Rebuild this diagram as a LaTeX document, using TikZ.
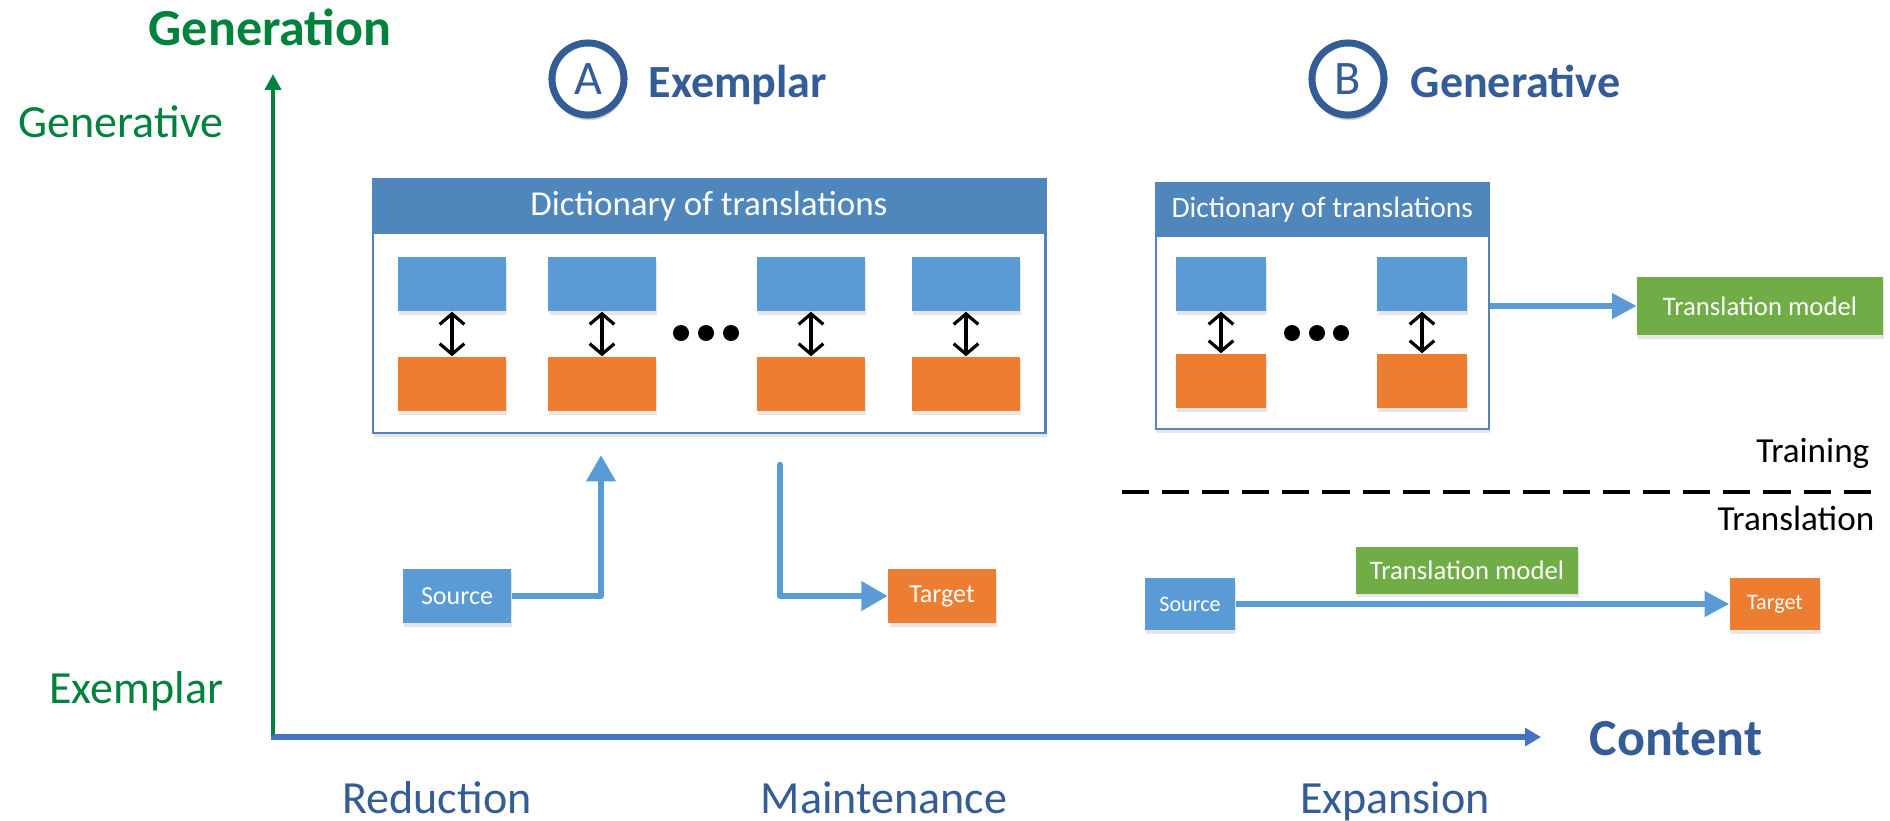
\documentclass[tikz,border=0pt]{standalone}
\usepackage{fontspec}
\setmainfont{Carlito}
\usetikzlibrary{arrows.meta,shadows}

\definecolor{axgreen}{RGB}{0,130,60}
\definecolor{navy}{RGB}{52,92,150}
\definecolor{hdrblue}{RGB}{79,134,188}
\definecolor{rimblue}{RGB}{84,130,185}
\definecolor{srcblue}{RGB}{91,155,213}
\definecolor{tgtorange}{RGB}{237,125,49}
\definecolor{mdlgreen}{RGB}{112,173,71}
\definecolor{axblue}{RGB}{68,114,196}

\newcommand{\fs}[1]{\fontsize{#1}{1.2\dimexpr#1pt\relax}\selectfont}

\begin{document}
\begin{tikzpicture}[x=0.01cm,y=-0.01cm,
  softshadow/.style={drop shadow={shadow xshift=0.3pt,shadow yshift=-1pt,opacity=0.1,fill=black}},
  dictframe/.style={draw=rimblue,line width=0.6pt,fill=white,rectangle,inner sep=0,softshadow},
  dicthead/.style={fill=hdrblue,rectangle,inner sep=0,text=white},
  entry/.style={rectangle,inner sep=0,minimum height=0.54cm,softshadow},
  srcbox/.style={entry,fill=srcblue},
  tgtbox/.style={entry,fill=tgtorange},
  mdlbox/.style={rectangle,inner sep=0,fill=mdlgreen,text=white,softshadow},
  pairarrow/.style={black,line width=0.9pt,{Straight Barb[length=3pt,width=7pt]}-{Straight Barb[length=3pt,width=7pt]}},
  dot/.style={circle,fill=black,minimum size=0.16cm,inner sep=0},
  flowA/.style={srcblue,line width=1.9pt,line join=round,-{Triangle[length=7.5pt,width=8pt]}},
  flowB/.style={srcblue,line width=1.5pt,-{Triangle[length=7pt,width=7pt]}},
  badge/.style={circle,draw=navy,fill=white,line width=2pt,minimum size=0.72cm,inner sep=0,text=navy,
    font=\fs{13.7},drop shadow={shadow xshift=0.3pt,shadow yshift=-1.5pt,opacity=0.18,fill=black}},
  title/.style={text=navy,font=\bfseries\fs{13.1},inner sep=0},
  axislabel/.style={text=navy,font=\fs{13.1},inner sep=0},
  levellabel/.style={text=axgreen,font=\fs{13.1},inner sep=0},
  phase/.style={text=black,font=\fs{10},inner sep=0}
]
\useasboundingbox (0,0) rectangle (1890,820);

% ---------- axes ----------
\coordinate (origin) at (273,737);
\coordinate (ytip) at (273,74);
\coordinate (xtip) at (1541,737);
\draw[axblue,line width=1.5pt,-{Triangle[length=4.5pt,width=5pt]},
      drop shadow={shadow xshift=0.3pt,shadow yshift=-1pt,opacity=0.15}] (origin) ++(-2,0) -- (xtip);
\draw[axgreen,line width=1.2pt,-{Triangle[length=4.5pt,width=4.5pt]}] (273,735) -- (ytip);

\node[anchor=base,text=axgreen,font=\bfseries\fs{14.8},inner sep=0] (ylab) at (270,45) {Generation};
\node[levellabel,anchor=base east] (ytop) at (224,137) {Generative};
\node[levellabel,anchor=base east] (ybot) at (224,703) {Exemplar};

\node[anchor=base,text=navy,font=\bfseries\fs{14.8},inner sep=0] (xlab) at (1676,755) {Content};
\node[axislabel,anchor=base] (xred) at (437,813) {Reduction};
\node[axislabel,anchor=base] (xmnt) at (884,813) {Maintenance};
\node[axislabel,anchor=base] (xexp) at (1395,813) {Expansion};

% ---------- A: exemplar ----------
\node[badge] (circA) at (588,79) {A};
\node[title,anchor=base west] (ttlA) at (648,97) {Exemplar};

\node[dictframe,anchor=north west,minimum width=6.72cm,minimum height=2.54cm] (dictA) at (372,178) {};
\node[dicthead,anchor=north west,minimum width=6.72cm,minimum height=0.55cm,font=\fs{9.95}] (headA) at (372,178) {Dictionary of translations};

\foreach \i/\x in {1/452,2/602,3/811,4/966}{
  \node[srcbox,minimum width=1.08cm] (a\i s) at (\x,284) {};
  \node[tgtbox,minimum width=1.08cm] (a\i t) at (\x,384) {};
  \draw[pairarrow] (a\i s.south) -- (a\i t.north);
}
\foreach \i/\x in {1/681,2/706,3/731}
  \node[dot] (adot\i) at (\x,333) {};

\node[srcbox,minimum width=1.08cm,text=white,font=\fs{7.4}] (srcA) at (457,596) {Source};
\node[tgtbox,minimum width=1.07cm,text=white,font=\fs{7.4}] (tgtA) at (942,596) {Target};
\coordinate (upA) at (601,455);
\coordinate (downA) at (780,465);
\draw[flowA] (srcA.east) -| (upA);
\draw[flowA,line cap=round] (downA) |- (tgtA.west);

% ---------- B: generative ----------
\node[badge] (circB) at (1348,79) {B};
\node[title,anchor=base west] (ttlB) at (1410,97) {Generative};

\node[dictframe,anchor=north west,minimum width=3.33cm,minimum height=2.46cm] (dictB) at (1155,182) {};
\node[dicthead,anchor=north west,minimum width=3.33cm,minimum height=0.54cm,font=\fs{8.4}] (headB) at (1155,182) {Dictionary of translations};

\foreach \i/\x in {1/1221,2/1422}{
  \node[srcbox,minimum width=0.9cm] (b\i s) at (\x,284) {};
  \node[tgtbox,minimum width=0.9cm] (b\i t) at (\x,381) {};
  \draw[pairarrow] (b\i s.south) -- (b\i t.north);
}
\foreach \i/\x in {1/1292,2/1317,3/1341}
  \node[dot] (bdot\i) at (\x,333) {};

\node[mdlbox,minimum width=2.45cm,minimum height=0.58cm,font=\fs{7.6}] (mdlTrain) at (1760,306) {Translation model};
\draw[flowB] (dictB.east |- mdlTrain.west) -- (mdlTrain.west);

% training / translation split
\node[phase,anchor=base east] (trn) at (1870,462) {Training};
\coordinate (splitL) at (1122,492);
\coordinate (splitR) at (1877,492);
\draw[black,line width=1.1pt,dash pattern=on 7.7pt off 3.7pt] (splitL) -- (splitR);
\node[phase,anchor=base east] (tsl) at (1875,530) {Translation};

\node[srcbox,minimum width=0.9cm,minimum height=0.52cm,text=white,font=\fs{6.3}] (srcB) at (1190,604) {Source};
\node[tgtbox,minimum width=0.9cm,minimum height=0.52cm,text=white,font=\fs{6.3}] (tgtB) at (1775,604) {Target};
\node[mdlbox,minimum width=2.22cm,minimum height=0.47cm,font=\fs{7.6}] (mdlUse) at (1467,570) {Translation model};
\draw[flowB] (srcB.east) -- (tgtB.west);
\end{tikzpicture}
\end{document}
